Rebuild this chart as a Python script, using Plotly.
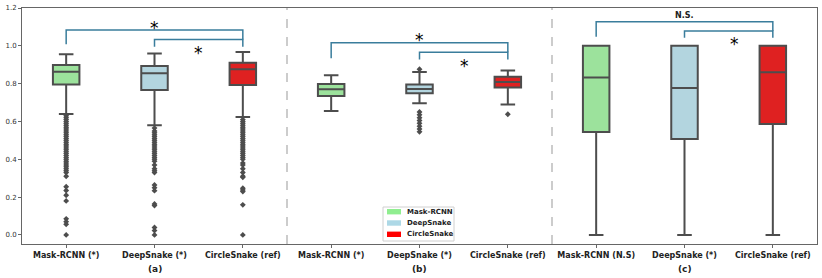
import plotly.graph_objects as go

# ---------------- data ----------------
methods = ["Mask-RCNN", "DeepSnake", "CircleSnake"]
positions = {"Mask-RCNN": [0, 3, 6], "DeepSnake": [1, 4, 7], "CircleSnake": [2, 5, 8]}
tick_vals = [0, 1, 2, 3, 4, 5, 6, 7, 8]
tick_text = ["Mask-RCNN (*)", "DeepSnake (*)", "CircleSnake (ref)",
             "Mask-RCNN (*)", "DeepSnake (*)", "CircleSnake (ref)",
             "Mask-RCNN (N.S)", "DeepSnake (*)", "CircleSnake (ref)"]
panel_labels = ["(a)", "(b)", "(c)"]
panel_centers = [1, 4, 7]
separators = [2.5, 5.5]

# quartile stats per method, order: panel a, b, c
q1 = {"Mask-RCNN": [0.795, 0.735, 0.544], "DeepSnake": [0.766, 0.749, 0.507], "CircleSnake": [0.793, 0.779, 0.587]}
median = {"Mask-RCNN": [0.863, 0.770, 0.833], "DeepSnake": [0.855, 0.772, 0.777], "CircleSnake": [0.876, 0.809, 0.860]}
q3 = {"Mask-RCNN": [0.898, 0.798, 1.0], "DeepSnake": [0.893, 0.796, 1.0], "CircleSnake": [0.910, 0.837, 1.0]}
low = {"Mask-RCNN": [0.640, 0.655, 0.0], "DeepSnake": [0.580, 0.696, 0.0], "CircleSnake": [0.623, 0.690, 0.0]}
high = {"Mask-RCNN": [0.955, 0.844, 1.0], "DeepSnake": [0.960, 0.861, 1.0], "CircleSnake": [0.967, 0.870, 1.0]}

out_mask_a = [0.63, 0.62, 0.61, 0.60, 0.59, 0.58, 0.57, 0.56, 0.55, 0.54, 0.53, 0.52, 0.51, 0.50,
              0.49, 0.48, 0.47, 0.46, 0.45, 0.44, 0.43, 0.42, 0.41, 0.40, 0.39, 0.38, 0.37, 0.36,
              0.35, 0.34, 0.33, 0.31, 0.255, 0.235, 0.21, 0.18, 0.085, 0.07, 0.056, 0.0]
out_deep_a = [0.565, 0.55, 0.54, 0.53, 0.52, 0.51, 0.50, 0.49, 0.48, 0.47, 0.46, 0.45, 0.44, 0.43,
              0.42, 0.41, 0.40, 0.39, 0.37, 0.35, 0.34, 0.33, 0.264, 0.25, 0.234, 0.164, 0.155,
              0.039, 0.023, 0.0]
out_circ_a = [0.61, 0.60, 0.59, 0.58, 0.57, 0.56, 0.55, 0.54, 0.53, 0.52, 0.51, 0.50, 0.49, 0.48,
              0.47, 0.46, 0.45, 0.44, 0.43, 0.42, 0.41, 0.40, 0.38, 0.37, 0.35, 0.33, 0.31, 0.305,
              0.247, 0.238, 0.229, 0.159, 0.0]
out_deep_b = [0.876, 0.65, 0.635, 0.62, 0.605, 0.59, 0.575, 0.56, 0.545]
out_circ_b = [0.638]
outliers = {"Mask-RCNN": [out_mask_a, [], []], "DeepSnake": [out_deep_a, out_deep_b, []],
            "CircleSnake": [out_circ_a, out_circ_b, []]}

fill_colors = {"Mask-RCNN": "#9ce29c", "DeepSnake": "#b3d5df", "CircleSnake": "#df2121"}
legend_colors = {"Mask-RCNN": "#90ee90", "DeepSnake": "#add8e6", "CircleSnake": "#ff0000"}

# significance brackets: left x, right x, bar y, left leg end, right leg end
br_x1 = [0, 1, 3, 4, 6, 7]
br_x2 = [2, 2, 5, 5, 8, 8]
br_y = [1.084, 1.034, 1.016, 0.966, 1.127, 1.078]
br_yl = [1.008, 0.995, 0.934, 0.928, 1.048, 1.043]
br_yr = [1.034, 0.995, 0.966, 0.928, 1.078, 1.043]
sig_text = ["*", "*", "*", "*", "N.S.", "*"]
sig_x = [1, 1.5, 4, 4.51, 7, 7.57]
sig_y = [1.12, 0.99, 1.057, 0.921, 1.158, 1.034]

# ---------------- layout geometry ----------------
W, H = 822, 278
ML, MR, MT, MB = 22, 5, 8, 34
PW, PH = W - ML - MR, H - MT - MB


def px2paper(px, py):
    return (px - ML) / PW, (H - MB - py) / PH


# ---------------- figure ----------------
edge = "#4d4d4d"
fig = go.Figure()
for name in methods:
    fig.add_trace(go.Box(
        x=positions[name], q1=q1[name], median=median[name], q3=q3[name],
        lowerfence=low[name], upperfence=high[name], width=0.3,
        fillcolor=fill_colors[name], line=dict(color=edge, width=2),
        whiskerwidth=0.55, boxpoints=False, showlegend=False, hoverinfo="skip"))
    xs, ys = [], []
    for p, vals in zip(positions[name], outliers[name]):
        xs += [p] * len(vals)
        ys += vals
    fig.add_trace(go.Scatter(x=xs, y=ys, mode="markers", showlegend=False, hoverinfo="skip",
                             marker=dict(symbol="diamond", size=4.5, color=edge)))

br_color = "#3a7d9c"
for a, b, y, yl, yr in zip(br_x1, br_x2, br_y, br_yl, br_yr):
    fig.add_trace(go.Scatter(x=[a, a, b, b], y=[yl, y, y, yr], mode="lines",
                             line=dict(color=br_color, width=1.5), showlegend=False,
                             hoverinfo="skip"))

for t, x, y in zip(sig_text, sig_x, sig_y):
    if t == "*":
        fig.add_annotation(x=x, y=y, text="*", showarrow=False, yshift=-5,
                           xanchor="center", yanchor="middle",
                           font=dict(family="DejaVu Sans", size=17, color="black"))
    else:
        fig.add_annotation(x=x, y=y, text="<b>" + t + "</b>", showarrow=False,
                           xanchor="center", yanchor="middle",
                           font=dict(family="DejaVu Sans", size=8, color="#222"))

for lab, cx in zip(panel_labels, panel_centers):
    fig.add_annotation(x=cx, xref="x", y=px2paper(0, 269)[1], yref="paper",
                       xanchor="center", yanchor="middle",
                       text="<b>" + lab + "</b>", showarrow=False,
                       font=dict(family="DejaVu Sans", size=9, color="#222"))

for s in separators:
    fig.add_shape(type="line", x0=s, x1=s, xref="x", y0=0, y1=1, yref="paper",
                  line=dict(color="#999999", width=1, dash="dash"))

# custom legend (matplotlib style patches)
lx0, ly0 = px2paper(383, 207)
lx1, ly1 = px2paper(454, 241)
fig.add_shape(type="rect", xref="paper", yref="paper", x0=lx0, x1=lx1, y0=ly1, y1=ly0,
              line=dict(color="#d0d0d0", width=1), fillcolor="white", layer="above")
for i, name in enumerate(methods):
    cy = 211.7 + i * 11.3
    px0, py0 = px2paper(387, cy - 2.7)
    px1, py1 = px2paper(401, cy + 2.7)
    fig.add_shape(type="rect", xref="paper", yref="paper", x0=px0, x1=px1, y0=py1, y1=py0,
                  line=dict(width=0), fillcolor=legend_colors[name], layer="above")
    tx, ty = px2paper(405, cy)
    fig.add_annotation(x=tx, y=ty, xref="paper", yref="paper", xanchor="left", yanchor="middle",
                       text="<b>" + name + "</b>", showarrow=False,
                       font=dict(family="DejaVu Sans", size=7, color="#222"))

fig.update_layout(
    width=W, height=H, margin=dict(l=ML, r=MR, t=MT, b=MB, autoexpand=False),
    plot_bgcolor="white", paper_bgcolor="white", showlegend=False,
    font=dict(family="DejaVu Sans", color="#222"),
)
fig.update_xaxes(range=[-0.5, 8.5], tickmode="array", tickvals=tick_vals,
                 ticktext=["<b>" + t + "</b>" for t in tick_text],
                 tickfont=dict(size=8, family="DejaVu Sans", color="#222"),
                 ticks="outside", ticklen=3, tickcolor="#666", automargin=False,
                 showline=True, linecolor="#666", linewidth=1, mirror=True,
                 showgrid=False, zeroline=False)
fig.update_yaxes(range=[-0.048, 1.2], tickmode="array",
                 tickvals=[0, 0.2, 0.4, 0.6, 0.8, 1.0, 1.2],
                 ticktext=["0.0", "0.2", "0.4", "0.6", "0.8", "1.0", "1.2"],
                 tickfont=dict(size=7, family="DejaVu Sans", color="#333"),
                 ticks="outside", ticklen=3, tickcolor="#666", automargin=False,
                 showline=True, linecolor="#666", linewidth=1, mirror=True,
                 showgrid=False, zeroline=False)

fig.write_html("out.html", config={"displayModeBar": False},
               post_script="document.body.style.margin='0';")
